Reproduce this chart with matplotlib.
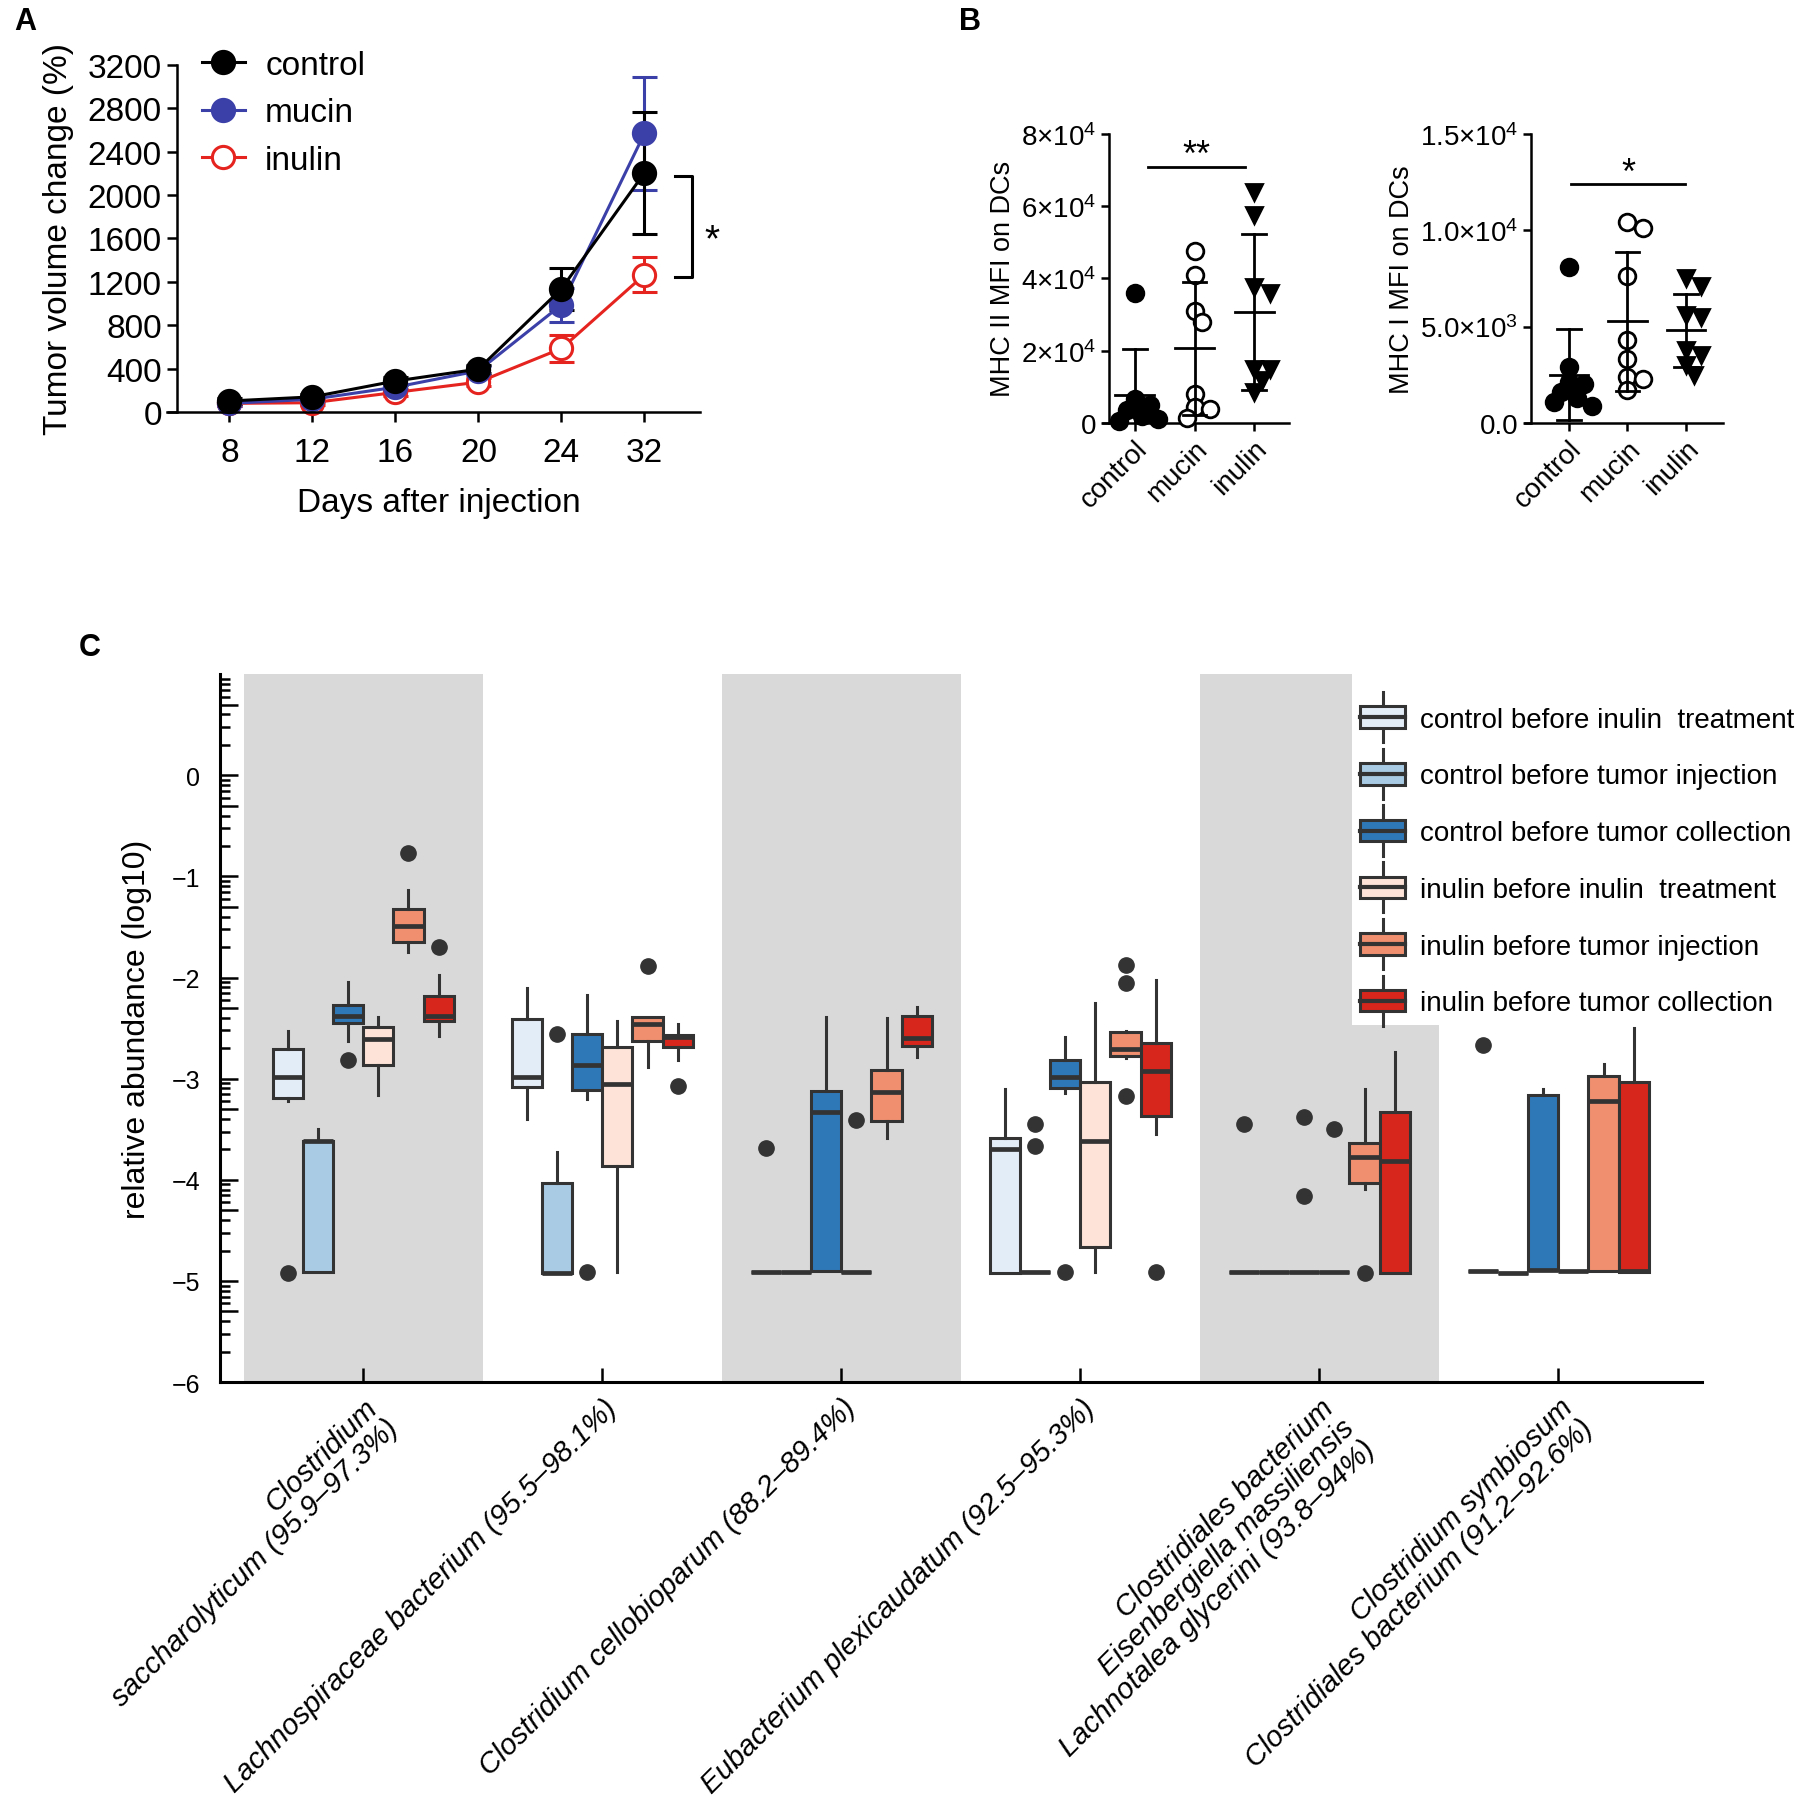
import numpy as np
import matplotlib
matplotlib.use("Agg")
import matplotlib.pyplot as plt
from matplotlib.lines import Line2D
from matplotlib.patches import Patch, Rectangle
from matplotlib.legend_handler import HandlerBase
from matplotlib.ticker import FixedLocator, FuncFormatter
from matplotlib.transforms import IdentityTransform

plt.rcParams['font.family'] = ['Liberation Sans', 'DejaVu Sans']
plt.rcParams['mathtext.fontset'] = 'custom'
plt.rcParams['mathtext.rm'] = 'Liberation Sans'
plt.rcParams['mathtext.it'] = 'Liberation Sans:italic'
plt.rcParams['mathtext.bf'] = 'Liberation Sans:bold'
plt.rcParams['axes.linewidth'] = 1.8

# ---------------- panel A: tumour growth ----------------
days = ['8', '12', '16', '20', '24', '32']
ctrl_mean = [101, 139, 285, 395, 1135, 2204]
ctrl_err = [25, 30, 35, 40, 195, 560]
mucin_mean = [79, 117, 228, 379, 987, 2568]
mucin_err = [20, 25, 30, 40, 160, 522]
inulin_mean = [79, 85, 180, 275, 585, 1265]
inulin_err = [20, 20, 30, 35, 120, 163]
a_yticks = [0, 400, 800, 1200, 1600, 2000, 2400, 2800, 3200]

# ---------------- panel B: MHC MFI on DCs ----------------
groups_b = ['control', 'mucin', 'inulin']
mhc2_control = [36000, 6500, 5000, 3500, 2000, 1000, 500]
mhc2_mucin = [47500, 41000, 31000, 28000, 8000, 4500, 4000, 1500]
mhc2_inulin = [64000, 57500, 37500, 36000, 15000, 15000, 12000, 8500]
mhc1_control = [8100, 2900, 2100, 2000, 1600, 1300, 1100, 900]
mhc1_mucin = [10400, 10100, 7600, 4300, 3300, 2400, 2300, 1700]
mhc1_inulin = [7500, 7100, 5600, 5500, 3800, 3500, 3000, 2500]
mhc2_ticks = [0, 20000, 40000, 60000, 80000]
mhc2_ticklabels = ['0', r'2$\times$10$^4$', r'4$\times$10$^4$',
                   r'6$\times$10$^4$', r'8$\times$10$^4$']
mhc1_ticks = [0, 5000, 10000, 15000]
mhc1_ticklabels = ['0.0', r'5.0$\times$10$^3$', r'1.0$\times$10$^4$',
                   r'1.5$\times$10$^4$']

# ---------------- panel C: relative abundance boxes ----------------
species = [
    'Clostridium\nsaccharolyticum (95.9–97.3%)',
    'Lachnospiraceae bacterium (95.5–98.1%)',
    'Clostridium cellobioparum (88.2–89.4%)',
    'Eubacterium plexicaudatum (92.5–95.3%)',
    'Clostridiales bacterium\nEisenbergiella massiliensis\nLachnotalea glycerini (93.8–94%)',
    'Clostridium symbiosum\nClostridiales bacterium (91.2–92.6%)',
]
group_labels = [
    'control before inulin  treatment',
    'control before tumor injection',
    'control before tumor collection',
    'inulin before inulin  treatment',
    'inulin before tumor injection',
    'inulin before tumor collection',
]
box_colors = ['#e3edf8', '#a9cce4', '#2f78b8', '#fde3d8', '#f08f70', '#d7261c']

# rows = groups, columns = species
box_lo = [[-3.22, -3.40, -4.91, -4.92, -4.91, -4.90],
          [-4.91, -4.92, -4.91, -4.91, -4.91, -4.92],
          [-2.63, -3.20, -4.90, -3.14, -4.91, -4.89],
          [-3.16, -4.91, -4.91, -4.91, -4.91, -4.90],
          [-1.75, -2.88, -3.59, -2.80, -4.09, -4.90],
          [-2.58, -2.82, -2.79, -3.55, -4.92, -4.91]]
box_q1 = [[-3.19, -3.08, -4.91, -4.92, -4.91, -4.90],
          [-4.91, -4.92, -4.91, -4.91, -4.91, -4.92],
          [-2.45, -3.11, -4.90, -3.09, -4.91, -4.89],
          [-2.86, -3.86, -4.91, -4.66, -4.91, -4.90],
          [-1.65, -2.63, -3.42, -2.78, -4.03, -4.90],
          [-2.43, -2.69, -2.68, -3.37, -4.92, -4.91]]
box_med = [[-2.98, -2.98, -4.91, -3.70, -4.91, -4.90],
           [-3.62, -4.92, -4.91, -4.91, -4.91, -4.92],
           [-2.38, -2.86, -3.33, -2.98, -4.91, -4.89],
           [-2.61, -3.05, -4.91, -3.62, -4.91, -4.90],
           [-1.49, -2.46, -3.13, -2.71, -3.77, -3.22],
           [-2.38, -2.59, -2.60, -2.92, -3.81, -4.90]]
box_q3 = [[-2.71, -2.41, -4.91, -3.59, -4.91, -4.90],
          [-3.62, -4.03, -4.91, -4.91, -4.91, -4.92],
          [-2.27, -2.56, -3.12, -2.82, -4.91, -3.16],
          [-2.49, -2.69, -4.91, -3.03, -4.91, -4.90],
          [-1.32, -2.39, -2.91, -2.54, -3.64, -2.97],
          [-2.18, -2.57, -2.38, -2.65, -3.33, -3.03]]
box_hi = [[-2.53, -2.10, -4.91, -3.10, -4.91, -4.90],
          [-3.50, -3.72, -4.91, -4.91, -4.91, -4.92],
          [-2.04, -2.17, -2.39, -2.59, -4.91, -3.10],
          [-2.39, -2.43, -4.91, -2.25, -4.91, -4.90],
          [-1.13, -2.39, -2.40, -2.53, -3.10, -2.85],
          [-1.97, -2.46, -2.29, -2.02, -2.74, -2.50]]
box_fliers = [[[-4.92], [], [-3.69], [], [-3.45], [-2.67]],
              [[], [-2.56], [], [-3.45, -3.67], [], []],
              [[-2.82], [-4.91], [], [-4.91], [-3.38, -4.16], []],
              [[], [], [-3.41], [], [-3.50], []],
              [[-0.77], [-1.89], [], [-1.88, -2.05, -3.17], [-4.92], []],
              [[-1.70], [-3.07], [], [-4.91], [], []]]

EDGE = '#333333'

fig = plt.figure(figsize=(18.16, 18.08), dpi=100)

# ======================= A =======================
ax_a = fig.add_axes([0.0975, 0.7716, 0.288, 0.192])
xa = np.arange(len(days))
a_series = [(inulin_mean, inulin_err, '#e52420', 'white', 'inulin'),
            (mucin_mean, mucin_err, '#3b3fa8', '#3b3fa8', 'mucin'),
            (ctrl_mean, ctrl_err, 'black', 'black', 'control')]
for mean, err, col, face, lab in a_series:
    ax_a.errorbar(xa, mean, yerr=err, color=col, marker='o', mfc=face, mec=col,
                  ms=16, mew=2.2, lw=2.2, capsize=9, capthick=2.2,
                  elinewidth=2.2, clip_on=False)
ax_a.set_xlim(-0.63, 5.67)
ax_a.set_ylim(0, 3200)
ax_a.set_xticks(xa)
ax_a.set_xticklabels(days)
ax_a.set_yticks(a_yticks)
ax_a.spines[['top', 'right']].set_visible(False)
ax_a.spines['bottom'].set_bounds(-0.75, 5.67)
ax_a.tick_params(labelsize=24, length=7, width=1.8, pad=4)
ax_a.tick_params(axis='x', pad=11)
ax_a.set_xlabel('Days after injection', fontsize=24, labelpad=14)
ax_a.set_ylabel('Tumor volume change (%)', fontsize=24, labelpad=10)
leg_a = [Line2D([], [], color=col, marker='o', mfc=face, mec=col, ms=16,
                mew=2.2, lw=2.2, label=lab) for _, _, col, face, lab in a_series[::-1]]
ax_a.legend(handles=leg_a, loc='upper left', bbox_to_anchor=(-0.01, 1.13),
            frameon=False, fontsize=24, handlelength=1.3, handletextpad=0.6,
            labelspacing=0.5)
# significance bracket between control and inulin at day 32
bx = xa[-1] + 0.57
ax_a.plot([bx - 0.2, bx, bx, bx - 0.2],
          [ctrl_mean[-1] - 30, ctrl_mean[-1] - 30, inulin_mean[-1] - 20, inulin_mean[-1] - 20],
          color='black', lw=2.2, clip_on=False)
ax_a.text(bx + 0.24, (ctrl_mean[-1] + inulin_mean[-1]) / 2 - 150, '*', fontsize=28,
          ha='center', va='center')


# ======================= B =======================
def swarm_x(ax, xc, vals, diam_px):
    placed, xs = [], []
    inv = ax.transData.inverted()
    x0 = ax.transData.transform((xc, 0))[0]
    for v in vals:
        yp = ax.transData.transform((xc, v))[1]
        xp = x0
        for k in [0, 1, -1, 2, -2, 3, -3]:
            xp = x0 + k * diam_px * 0.45
            if all((xp - px) ** 2 + (yp - py) ** 2 >= (0.7 * diam_px) ** 2
                   for px, py in placed):
                break
        placed.append((xp, yp))
        xs.append(inv.transform((xp, yp))[0])
    return xs


def dot_panel(ax, sets, ylim, ticks, ticklabels, ylabel, sig, xlim):
    ax.set_xlim(*xlim)
    ax.set_ylim(*ylim)
    styles = [dict(marker='o', mfc='black', mec='black'),
              dict(marker='o', mfc='white', mec='black'),
              dict(marker='v', mfc='black', mec='black')]
    for i, (vals, st) in enumerate(zip(sets, styles)):
        vals = np.asarray(vals, float)
        xs = swarm_x(ax, i, vals, 17)
        ax.plot(xs, vals, ls='none', ms=12, mew=2, clip_on=False, zorder=3, **st)
        m, sd = vals.mean(), vals.std(ddof=1)
        kw = dict(color='black', lw=2, zorder=4)
        ax.plot([i - 0.33, i + 0.33], [m, m], **kw)
        ax.plot([i, i], [m - sd, m + sd], **kw)
        ax.plot([i - 0.2, i + 0.2], [m + sd, m + sd], **kw)
        ax.plot([i - 0.2, i + 0.2], [m - sd, m - sd], **kw)
    ax.set_xticks(range(len(groups_b)))
    ax.set_xticklabels(groups_b, rotation=45, ha='right', va='top',
                       rotation_mode='anchor', fontsize=20)
    ax.set_yticks(ticks)
    ax.set_yticklabels(ticklabels, fontsize=20)
    ax.spines[['top', 'right']].set_visible(False)
    ax.spines['bottom'].set_bounds(xlim[0] - 0.1, xlim[1])
    ax.tick_params(length=6, width=1.8, pad=3)
    ax.set_ylabel(ylabel, fontsize=19.5, labelpad=4)
    x1, x2, ys, txt, yt = sig
    ax.plot([x1, x2], [ys, ys], color='black', lw=2, clip_on=False)
    ax.text((x1 + x2) / 2, yt, txt, fontsize=26, ha='center', va='center')


ax_b1 = fig.add_axes([0.6107, 0.7655, 0.0991, 0.160])
dot_panel(ax_b1, [mhc2_control, mhc2_mucin, mhc2_inulin], (0, 80000),
          mhc2_ticks, mhc2_ticklabels, 'MHC II MFI on DCs',
          (0.22, 1.84, 70800, '**', 74000), (-0.43, 2.58))
ax_b2 = fig.add_axes([0.843, 0.7655, 0.1057, 0.160])
dot_panel(ax_b2, [mhc1_control, mhc1_mucin, mhc1_inulin], (0, 15000),
          mhc1_ticks, mhc1_ticklabels, 'MHC I MFI on DCs',
          (0.04, 1.98, 12400, '*', 12950), (-0.65, 2.63))

# ======================= C =======================
ax_c = fig.add_axes([0.1211, 0.235, 0.816, 0.3916])
n_s = len(species)
n_g = len(group_labels)
for s in range(0, n_s, 2):
    ax_c.axvspan(s - 0.5, s + 0.5, color='#d9d9d9', lw=0, zorder=0)
bw = 0.126
for g in range(n_g):
    stats = [dict(med=box_med[g][s], q1=box_q1[g][s], q3=box_q3[g][s],
                  whislo=box_lo[g][s], whishi=box_hi[g][s], fliers=box_fliers[g][s])
             for s in range(n_s)]
    pos = np.arange(n_s) + (g - (n_g - 1) / 2) * bw
    ax_c.bxp(stats, positions=pos, widths=bw, patch_artist=True, showcaps=False,
             boxprops=dict(facecolor=box_colors[g], edgecolor=EDGE, lw=2.2),
             medianprops=dict(color=EDGE, lw=3.4),
             whiskerprops=dict(color=EDGE, lw=2.2),
             flierprops=dict(marker='o', markerfacecolor=EDGE, markeredgecolor=EDGE,
                             markersize=11),
             manage_ticks=False, zorder=2)
ax_c.set_xlim(-0.6, 5.6)
ax_c.set_ylim(-6, 1)
major = [n for n in range(-6, 1)] + [n + np.log10(5) for n in range(-6, 1)]
minor = [n + np.log10(k) for n in range(-6, 1) for k in (2, 3, 4, 6, 7, 8, 9)]
ax_c.yaxis.set_major_locator(FixedLocator(major))
ax_c.yaxis.set_minor_locator(FixedLocator(minor))
ax_c.yaxis.set_major_formatter(FuncFormatter(
    lambda v, p: f'{v:.0f}'.replace('-', '\u2212') if abs(v - round(v)) < 1e-6 else ''))
ax_c.tick_params(axis='y', which='major', direction='in', length=13, width=1.8,
                 labelsize=18, pad=14)
ax_c.tick_params(axis='y', which='minor', direction='in', length=7, width=1.8)
ax_c.set_xticks(range(n_s))
ax_c.set_xticklabels(species, rotation=45, ha='right', va='top',
                     rotation_mode='anchor', fontstyle='italic', fontsize=21,
                     multialignment='right', linespacing=1.05)
ax_c.tick_params(axis='x', direction='in', length=10, width=1.8, pad=8)
ax_c.spines[['top', 'right']].set_visible(False)
ax_c.spines[['left', 'bottom']].set_linewidth(2.2)
ax_c.set_ylabel('relative abundance (log10)', fontsize=23, labelpad=14)


class BoxHandler(HandlerBase):
    def create_artists(self, legend, orig_handle, xdescent, ydescent, width,
                       height, fontsize, trans):
        x0, y0 = -xdescent, -ydescent
        cx = x0 + width / 2
        whisk = Line2D([cx, cx], [y0 - 0.55 * height, y0 + 1.55 * height],
                       color=EDGE, lw=2.2, transform=trans)
        rect = Rectangle((x0, y0 + 0.05 * height), width, 0.9 * height,
                         facecolor=orig_handle.get_facecolor(), edgecolor=EDGE,
                         lw=2.2, transform=trans)
        med = Line2D([x0, x0 + width], [y0 + height / 2] * 2, color=EDGE, lw=3,
                     transform=trans)
        return [whisk, rect, med]


handles = [Patch(facecolor=c) for c in box_colors]
leg = ax_c.legend(handles, group_labels, handler_map={Patch: BoxHandler()},
                  loc='upper left', bbox_to_anchor=(0.7445, 0.614),
                  bbox_transform=fig.transFigure, frameon=True, fancybox=False,
                  framealpha=1, edgecolor='none', fontsize=20, handlelength=1.6,
                  handleheight=0.95, labelspacing=1.05, handletextpad=0.55,
                  borderpad=0.3, borderaxespad=0)
leg.set_zorder(5)

# white backing between the legend frame and the top of the axes
fig.canvas.draw()
fb = leg.get_frame().get_window_extent()
ab = ax_c.get_window_extent()
ax_c.add_patch(Rectangle((fb.x0, fb.y1 - 2), fb.width, ab.y1 - fb.y1 + 2,
                         transform=IdentityTransform(), facecolor='white',
                         edgecolor='none', zorder=1, clip_on=False))

# panel letters
fig.text(0.008, 0.988, 'A', fontsize=22, weight='bold', va='center')
fig.text(0.528, 0.988, 'B', fontsize=22, weight='bold', va='center')
fig.text(0.0435, 0.6416, 'C', fontsize=22, weight='bold', va='center')

fig.savefig('out.png', dpi=100)
